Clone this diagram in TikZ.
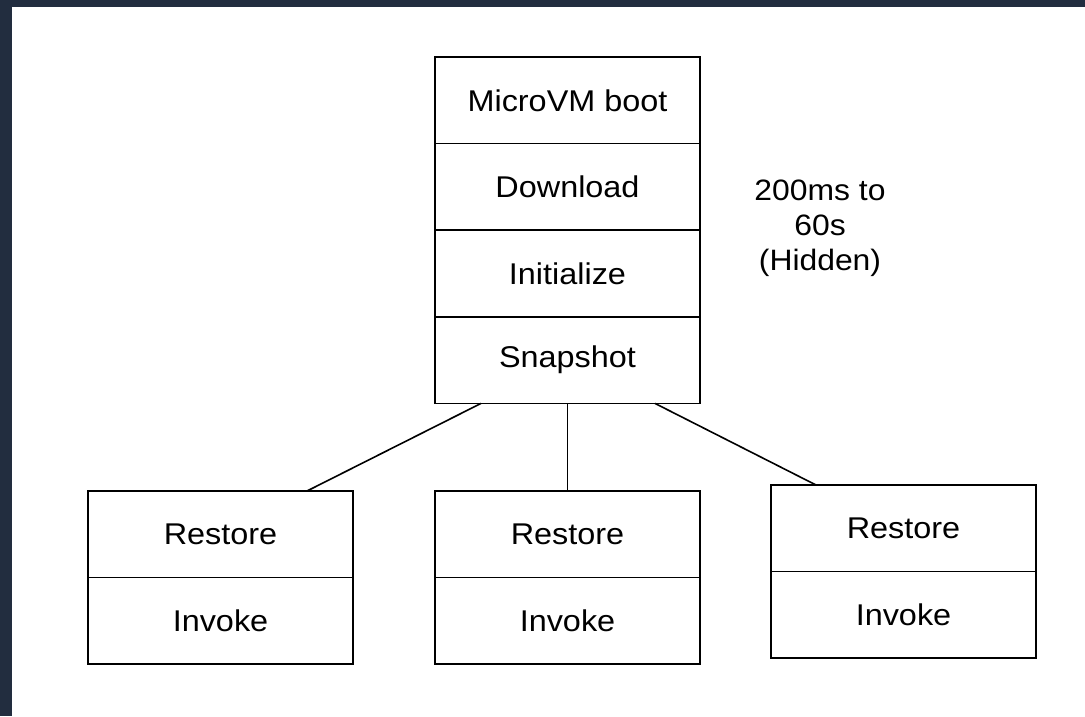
\documentclass[tikz,border=0pt]{standalone}
\usepackage{fontspec}
\setmainfont{Liberation Sans}[FakeStretch=1.08]
\usetikzlibrary{calc}
\definecolor{frame}{HTML}{222D3F}
\tikzset{
  cell/.style={draw=black, line width=1.7pt, minimum width=265pt,
    minimum height=86.6pt, inner sep=0pt, outer sep=0pt,
    font=\fontsize{30}{36}\selectfont},
  link/.style={draw=black, line width=1.6pt},
  note/.style={align=center, font=\fontsize{29.5}{35}\selectfont, inner sep=0pt}
}
\begin{document}
\begin{tikzpicture}[x=1pt, y=-1pt]
  % page background with the dark frame on the left and top
  \fill[frame] (0,0) rectangle (1085,716);
  \fill[white] (12,7) rectangle (1085,716);
  \useasboundingbox (0,0) rectangle (1085,716);

  % cold start stack
  \node[cell, anchor=north west] (boot) at (435,57) {MicroVM boot};
  \node[cell, anchor=north] (download) at (boot.south) {Download};
  \node[cell, anchor=north] (init) at (download.south) {Initialize};
  \node[cell, anchor=north] (snap) at (init.south) {Snapshot};

  \node[note] (hidden) at (820,228) {200ms to\\60s\\(Hidden)};

  % restored copies
  \node[cell, anchor=north west] (restoreA) at (88,491) {Restore};
  \node[cell, anchor=north] (invokeA) at (restoreA.south) {Invoke};
  \node[cell, anchor=north west] (restoreB) at (435,491) {Restore};
  \node[cell, anchor=north] (invokeB) at (restoreB.south) {Invoke};
  \node[cell, anchor=north west] (restoreC) at (771,485) {Restore};
  \node[cell, anchor=north] (invokeC) at (restoreC.south) {Invoke};

  % connectors from the snapshot to each restore
  \draw[link] ($(snap.south west)+(46,0)$) -- ($(restoreA.north west)+(219,0)$);
  \draw[link] (snap.south) -- (restoreB.north);
  \draw[link] ($(snap.south east)+(-45,0)$) -- ($(restoreC.north west)+(45,0)$);
\end{tikzpicture}
\end{document}
